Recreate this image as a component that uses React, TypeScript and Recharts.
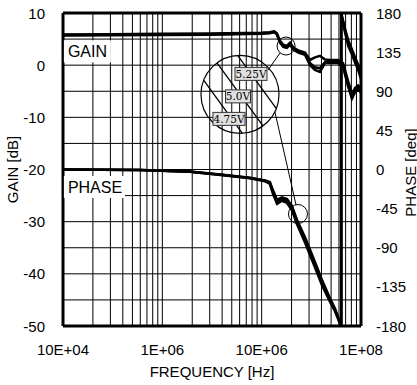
import React from 'react';
import { ComposedChart, Line, XAxis, YAxis, ReferenceLine, ReferenceDot } from 'recharts';

const FONT = '"Liberation Sans", Arial, sans-serif';
const SERIF = '"DejaVu Serif", "Liberation Serif", serif';

// Axis ticks
const freqTicks = [1e5, 1e6, 1e7, 1e8];
const freqTickLabels = ['10E+04', '1E+06', '10E+06', '1E+08'];
const gainTicks = [-50, -40, -30, -20, -10, 0, 10];
const phaseTicks = [-180, -135, -90, -45, 0, 45, 90, 135, 180];
const gainGrid = [-45, -40, -35, -30, -25, -20, -15, -10, -5, 0, 5];
const freqGrid = [
  2e5, 3e5, 4e5, 5e5, 6e5, 7e5, 8e5, 9e5, 1e6,
  2e6, 3e6, 4e6, 5e6, 6e6, 7e6, 8e6, 9e6, 1e7,
  2e7, 3e7, 4e7, 5e7, 6e7, 7e7, 8e7, 9e7,
];

// Gain curves (dB)
const gainFreq = [1e5, 3e5, 1e6, 3e6, 1e7, 1.2e7, 1.34e7, 1.42e7, 1.53e7, 1.65e7, 1.79e7, 1.93e7, 2.08e7, 2.34e7, 2.73e7, 3.07e7, 3.44e7, 3.86e7, 4.34e7, 4.87e7, 5.87e7, 6.59e7, 7.4e7, 8.11e7, 8.71e7, 9.33e7, 1e8];
const gain525 = [5.9, 5.95, 6.0, 6.05, 6.2, 6.3, 6.5, 6.1, 4.7, 3.9, 3.7, 4.3, 3.4, 2.8, 2.4, 1.0, 1.5, 1.8, 1.1, 1.0, 1.0, 0.4, -3.0, -5.5, -4.4, -3.9, -4.4];
const gain50 = [5.8, 5.85, 5.9, 5.95, 6.1, 6.2, 6.4, 6.0, 4.5, 3.7, 3.5, 4.1, 3.2, 2.6, 2.2, 0.4, -0.4, -0.6, 0.6, 0.8, 0.7, 0.0, -3.5, -6.0, -4.8, -4.3, -4.8];
const gain475 = [5.7, 5.75, 5.8, 5.85, 6.0, 6.1, 6.3, 5.9, 4.3, 3.5, 3.3, 3.9, 3.0, 2.4, 2.0, 0.0, -0.9, -1.3, 0.4, 0.4, 0.4, -0.3, -4.0, -6.4, -5.2, -4.7, -5.2];

// Phase curves (deg)
const phaseFreq = [1e5, 5.96e5, 1.9e6, 4.08e6, 7.64e6, 1.08e7, 1.21e7, 1.3e7, 1.43e7, 1.6e7, 1.8e7, 2.02e7, 2.27e7, 2.73e7, 3.29e7, 4.05e7, 4.87e7, 5.47e7, 6.15e7, 6.32e7, 6.32e7, 6.44e7, 6.9e7, 7.45e7, 8.06e7, 8.71e7, 9.4e7, 1e8];
const phase525 = [0, -0.6, -2.4, -6.1, -9.5, -12.5, -14.5, -24, -35, -32, -34, -42, -58, -78, -101, -127, -148, -160, -175.5, -180, 180, 176, 162, 148, 139, 129, 120, 110];
const phase50 = [0, -0.6, -2.5, -6.3, -9.8, -13, -15.5, -25.9, -37.4, -34, -36.2, -44.3, -60.4, -81, -104, -130.5, -150, -161.6, -176.5, -180, 180, 175, 160, 145, 136, 126, 117, 107];
const phase475 = [0, -0.7, -2.6, -6.5, -10.1, -13.5, -16.5, -28, -39.5, -36, -38.5, -47, -63, -84, -107, -133, -152, -163, -177.5, -180, 180, 174, 158, 142, 133, 123, 114, 104];

// Annotations
const voltageLabels = ['5.25V', '5.0V', '4.75V'];
const magnifier = { f: 6.05e6, g: -5.6 };
const gainSpot = { f: 1.76e7, g: 3.67 };
const phaseSpot = { f: 2.32e7, p: -51.2 };
const gainLink = [{ x: 1.16e7, y: -0.93 }, { x: 1.53e7, y: 2.33 }];
const phaseLink = [{ x: 1.36e7, y: -8.98 }, { x: 2.22e7, y: -26.8 }];
const gainTag = { f: 1.12e5, g: 1.5, text: 'GAIN' };
const phaseTag = { f: 1.12e5, g: -24.5, text: 'PHASE' };

const gainData = gainFreq.map((f, i) => ({ f, a: gain525[i], b: gain50[i], c: gain475[i] }));
const phaseData = phaseFreq.map((f, i) => ({ f, a: phase525[i], b: phase50[i], c: phase475[i] }));

const LeftTick = (p: any) => (
  <text x={p.x} y={p.y} dy={5.5} textAnchor="end" fontFamily={FONT} fontSize={15} fill="#000">
    {p.payload.value}
  </text>
);
const RightTick = (p: any) => (
  <text x={p.x} y={p.y} dy={5.5} textAnchor="start" fontFamily={FONT} fontSize={15} fill="#000">
    {p.payload.value}
  </text>
);
const BottomTick = (p: any) => {
  const idx = freqTicks.indexOf(p.payload.value);
  return (
    <text x={p.x} y={p.y} dy={11} textAnchor="middle" fontFamily={FONT} fontSize={15} fill="#000">
      {idx >= 0 ? freqTickLabels[idx] : ''}
    </text>
  );
};

const Tag = (text: string, w: number) => (p: any) => (
  <g>
    <rect x={p.cx - 4} y={p.cy - 17} width={w} height={22} fill="#fff" />
    <text x={p.cx} y={p.cy} fontFamily={FONT} fontSize={16} fill="#000">{text}</text>
  </g>
);

const Magnifier = (p: any) => {
  const cx = p.cx, cy = p.cy, r = 39;
  const d = [0.59, 0.81];
  const n = [0.81, -0.59];
  const offsets = [21, 0, -21];
  const labelPos = [[11, -20.5], [-2, 2], [-11, 24.5]];
  const boxW = [32, 25, 32];
  return (
    <g>
      <circle cx={cx} cy={cy} r={r} fill="none" stroke="#000" strokeWidth={1.2} />
      {offsets.map((o, i) => {
        const h = Math.sqrt(r * r - o * o);
        const mx = cx + o * n[0], my = cy + o * n[1];
        return (
          <line key={'l' + i} x1={mx - h * d[0]} y1={my - h * d[1]} x2={mx + h * d[0]} y2={my + h * d[1]} stroke="#000" strokeWidth={1.3} />
        );
      })}
      {voltageLabels.map((t, i) => {
        const lx = cx + labelPos[i][0], ly = cy + labelPos[i][1];
        return (
          <g key={'t' + i}>
            <rect x={lx - boxW[i] / 2} y={ly - 6.5} width={boxW[i]} height={13} fill="#e0e0e0" stroke="#333" strokeWidth={1} />
            <text x={lx} y={ly + 4} textAnchor="middle" fontFamily={SERIF} fontSize={10.5} fill="#000">{t}</text>
          </g>
        );
      })}
    </g>
  );
};

const SmallCircle = (r: number) => (p: any) => (
  <circle cx={p.cx} cy={p.cy} r={r} fill="none" stroke="#000" strokeWidth={1} />
);

const XTitle = (p: any) => {
  const vb = p.viewBox;
  return (
    <text x={vb.x + vb.width / 2} y={vb.y + 51} textAnchor="middle" fontFamily={FONT} fontSize={15} fill="#000">
      FREQUENCY [Hz]
    </text>
  );
};
const LeftTitle = (p: any) => {
  const vb = p.viewBox;
  const x = vb.x + 12, y = vb.y + vb.height / 2;
  return (
    <text x={x} y={y} transform={`rotate(-90 ${x} ${y})`} textAnchor="middle" dominantBaseline="central" fontFamily={FONT} fontSize={15} fill="#000">
      GAIN [dB]
    </text>
  );
};
const RightTitle = (p: any) => {
  const vb = p.viewBox;
  const x = vb.x + 49, y = vb.y + vb.height / 2 + 3;
  return (
    <text x={x} y={y} transform={`rotate(-90 ${x} ${y})`} textAnchor="middle" dominantBaseline="central" fontFamily={FONT} fontSize={15} fill="#000">
      PHASE [deg]
    </text>
  );
};

const lineProps = { stroke: '#000', strokeWidth: 2.5, dot: false, activeDot: false, isAnimationActive: false } as const;

export default function App() {
  return (
    <div style={{ position: 'absolute', left: 0, top: 0, background: '#fff' }}>
      <ComposedChart width={417} height={385} margin={{ top: 13, right: 0, bottom: 0, left: 0 }}>
        <XAxis
          dataKey="f"
          type="number"
          scale="log"
          domain={[1e5, 1e8]}
          allowDataOverflow
          ticks={freqTicks}
          tick={BottomTick}
          tickLine={false}
          tickSize={0}
          tickMargin={18}
          axisLine={{ stroke: '#000', strokeWidth: 3 }}
          height={59}
          label={XTitle}
        />
        <YAxis
          yAxisId="gain"
          type="number"
          domain={[-50, 10]}
          allowDataOverflow
          ticks={gainTicks}
          tick={LeftTick}
          tickLine={false}
          tickSize={0}
          tickMargin={18}
          axisLine={{ stroke: '#000', strokeWidth: 3 }}
          width={63}
          label={LeftTitle}
        />
        <YAxis
          yAxisId="phase"
          orientation="right"
          type="number"
          domain={[-180, 180]}
          allowDataOverflow
          ticks={phaseTicks}
          tick={RightTick}
          tickLine={false}
          tickSize={0}
          tickMargin={15}
          axisLine={{ stroke: '#000', strokeWidth: 3 }}
          width={56}
          label={RightTitle}
        />
        {gainGrid.map((v) => (
          <ReferenceLine key={'h' + v} yAxisId="gain" y={v} stroke="#000" strokeWidth={1} />
        ))}
        {freqGrid.map((v) => (
          <ReferenceLine key={'v' + v} yAxisId="gain" x={v} stroke="#000" strokeWidth={1} />
        ))}
        <ReferenceLine yAxisId="gain" y={10} stroke="#000" strokeWidth={3} />
        <ReferenceDot yAxisId="gain" x={gainTag.f} y={gainTag.g} shape={Tag(gainTag.text, 47)} />
        <ReferenceDot yAxisId="gain" x={phaseTag.f} y={phaseTag.g} shape={Tag(phaseTag.text, 61)} />

        <Line data={gainData} yAxisId="gain" dataKey="a" {...lineProps} />
        <Line data={gainData} yAxisId="gain" dataKey="b" {...lineProps} />
        <Line data={gainData} yAxisId="gain" dataKey="c" {...lineProps} />
        <Line data={phaseData} yAxisId="phase" dataKey="a" {...lineProps} />
        <Line data={phaseData} yAxisId="phase" dataKey="b" {...lineProps} />
        <Line data={phaseData} yAxisId="phase" dataKey="c" {...lineProps} />

        <ReferenceDot yAxisId="gain" x={magnifier.f} y={magnifier.g} shape={Magnifier} />
        <ReferenceDot yAxisId="gain" x={gainSpot.f} y={gainSpot.g} shape={SmallCircle(9)} />
        <ReferenceDot yAxisId="phase" x={phaseSpot.f} y={phaseSpot.p} shape={SmallCircle(9.5)} />
        <ReferenceLine yAxisId="gain" segment={gainLink} stroke="#000" strokeWidth={1} />
        <ReferenceLine yAxisId="gain" segment={phaseLink} stroke="#000" strokeWidth={1} />
      </ComposedChart>
    </div>
  );
}
